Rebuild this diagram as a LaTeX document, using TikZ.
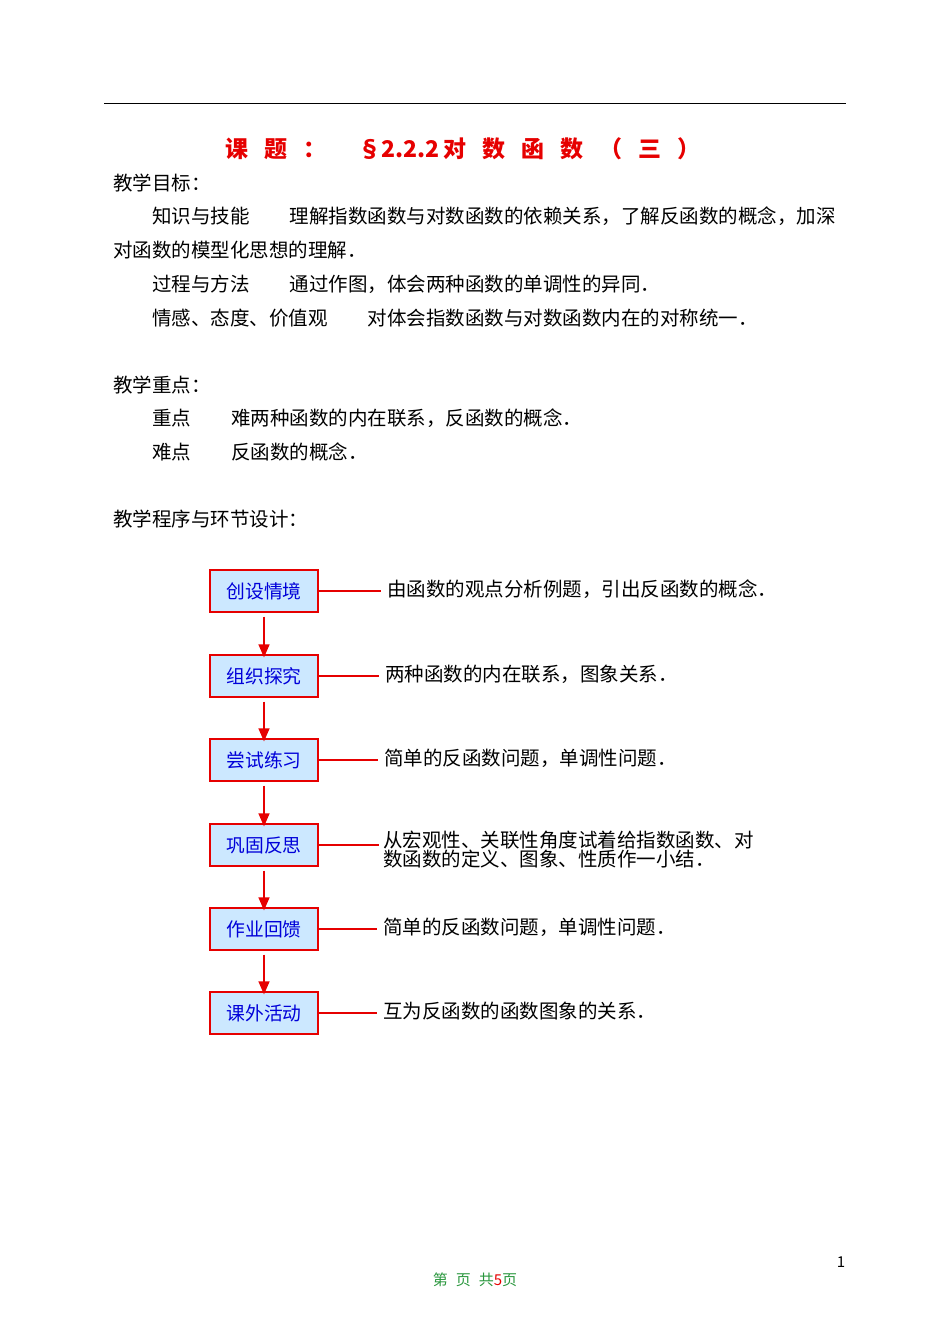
\documentclass[tikz,border=0pt]{standalone}
\usepackage{fontspec}
\setmainfont{Noto Sans CJK SC}
\usetikzlibrary{arrows.meta}
\definecolor{boxfill}{RGB}{204,232,255}
\definecolor{tred}{RGB}{230,0,0}
\definecolor{pgreen}{RGB}{40,150,60}
\tikzset{
 txt/.style={anchor=west,inner sep=0,font=\fontsize{19.5}{21}\selectfont},
 stepbox/.style={draw=tred,fill=boxfill,line width=1.2pt,minimum width=108pt,minimum height=42pt,inner sep=0,text=blue!85!black,font=\fontsize{18.8}{21}\selectfont},
 conn/.style={tred,line width=1.4pt},
 arr/.style={tred,line width=1.2pt,-{Triangle[length=13pt,width=11pt]}}
}
\newcommand{\tsp}{\hspace{16pt}}
\begin{document}
\begin{tikzpicture}[x=1pt,y=-1pt]
\useasboundingbox (0,0) rectangle (950,1342);
\draw[line width=1pt] (104,103) -- (846,103);
\node[anchor=center,inner sep=0,text=tred,font=\fontsize{23}{25}\selectfont\bfseries] (title) at (463,149) {课\tsp 题\tsp ：\tsp\tsp §2.2.2\hspace{4pt}对\tsp 数\tsp 函\tsp 数\tsp （\tsp 三\tsp ）};
\node[txt] (t1) at (113,183) {教学目标：};
\node[txt] (t2) at (152,216) {知识与技能\hspace{40pt}理解指数函数与对数函数的依赖关系，了解反函数的概念，加深};
\node[txt] (t3) at (113,250) {对函数的模型化思想的理解．};
\node[txt] (t4) at (152,284) {过程与方法\hspace{40pt}通过作图，体会两种函数的单调性的异同．};
\node[txt] (t5) at (152,318) {情感、态度、价值观\hspace{40pt}对体会指数函数与对数函数内在的对称统一．};
\node[txt] (t6) at (113,385) {教学重点：};
\node[txt] (t7) at (152,418) {重点\hspace{40pt}难两种函数的内在联系，反函数的概念．};
\node[txt] (t8) at (152,452) {难点\hspace{40pt}反函数的概念．};
\node[txt] (t9) at (113,519) {教学程序与环节设计：};
\foreach \i/\y/\d/\b/\tx in {1/591/387/创设情境/由函数的观点分析例题，引出反函数的概念．,
 2/676/385/组织探究/两种函数的内在联系，图象关系．,
 3/760/384/尝试练习/简单的反函数问题，单调性问题．,
 5/929/383/作业回馈/简单的反函数问题，单调性问题．,
 6/1013/383/课外活动/互为反函数的函数图象的关系．}{
  \node[stepbox] (b\i) at (264,\y) {\b};
  \node[txt] (d\i) at (\d,\y-2) {\tx};
  \coordinate (e\i) at (\d-6,\y);
  \draw[conn] (b\i.east) -- (e\i);
}
\node[stepbox] (b4) at (264,845) {巩固反思};
\node[txt,align=left,font=\fontsize{19.5}{19}\selectfont] (d4) at (383,850) {从宏观性、关联性角度试着给指数函数、对\\数函数的定义、图象、性质作一小结．};
\coordinate (e4) at (379,845);
\draw[conn] (b4.east) -- (e4);
\foreach \a/\b in {b1/b2,b2/b3,b3/b4,b4/b5,b5/b6}{
  \draw[arr] ([yshift=-4pt]\a.south) -- ([yshift=-3pt]\b.north);
}
\node[inner sep=0,font=\fontsize{15}{16}\selectfont] (pg) at (841,1262) {1};
\node[inner sep=0,text=pgreen,font=\fontsize{15}{16}\selectfont] (foot) at (475,1280) {第\hspace{8pt}页\hspace{8pt}共{\color{tred}5}页};
\end{tikzpicture}
\end{document}
